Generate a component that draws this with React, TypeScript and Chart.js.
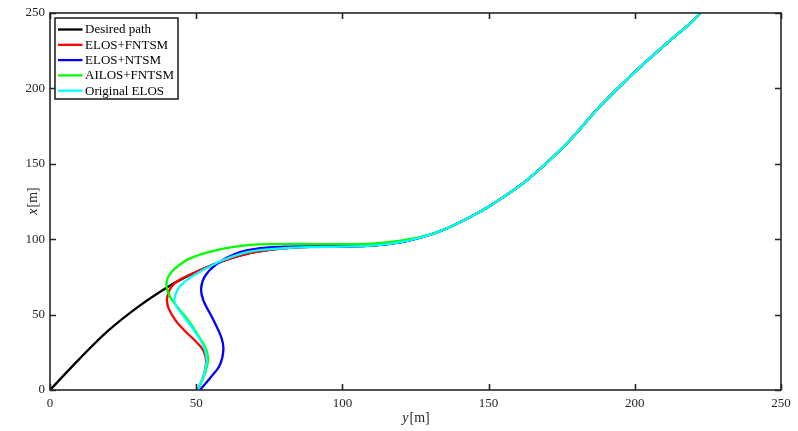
import React, { useEffect, useRef } from "react";
import { Chart, registerables } from "chart.js";
Chart.register(...registerables);

// Horizontal axis: y[m]; vertical axis: x[m]
const tickValues = [0, 50, 100, 150, 200, 250];
const seriesNames = ["Desired path", "ELOS+FNTSM", "ELOS+NTSM", "AILOS+FNTSM", "Original ELOS"];
const seriesColors = ["#000000", "#ff0000", "#0000ff", "#00ff00", "#00ffff"];

// shared final part of every path
const tailY = [110, 120, 130, 137, 145, 152, 163, 177, 188, 199.5, 211, 220, 222.3];
const tailX = [95.7, 98, 103, 108.3, 116, 124, 139, 164, 188, 210, 230, 245, 250];

const desiredY = [0, 10, 20, 30, 40, 47, 55, 62, 70, 80, 90, 100];
const desiredX = [0, 20.5, 39.5, 55, 68, 75.5, 82.5, 87.5, 91.5, 94, 95, 95.3];

const elosFntsmY = [50.5, 52.4, 53.4, 52.5, 50, 46.5, 43, 40.6, 40, 40.8, 42.5, 45, 48, 55, 62, 70, 80, 90, 100];
const elosFntsmX = [0, 8.8, 18.8, 26, 32, 38.5, 46, 54, 60, 66, 70.5, 73.8, 76.5, 82.5, 87.5, 91.5, 94, 95, 95.3];

const elosNtsmY = [51.3, 54.7, 58.1, 59.3, 58.7, 55.9, 52.4, 51.7, 53, 57, 63.8, 71.8, 80, 90, 100];
const elosNtsmX = [0, 7.8, 16.6, 26.5, 34.3, 46.4, 59.7, 67.5, 75.5, 83.5, 90.6, 94, 95, 95.2, 95.3];

const ailosY = [50.5, 52.6, 54, 53.5, 51, 47.2, 43.5, 41, 39.9, 40.2, 42.2, 47.9, 57, 68.4, 78.7, 90, 100, 110, 120];
const ailosX = [0, 8.8, 18.8, 26.5, 35.3, 46.4, 55.2, 62, 68, 74, 79.6, 87.3, 92.8, 96.2, 96.8, 96.8, 96.7, 97, 99];

const originalY = [50.5, 52.4, 53.6, 53, 50.7, 46.7, 43.3, 42.5, 43.9, 46.8, 51.3, 59.3, 68.4, 80, 90, 100];
const originalX = [0, 8.8, 18.8, 26.5, 35.3, 46.4, 55.2, 60, 67.4, 72.9, 78.4, 86.2, 91.7, 94, 94.8, 95.1];

function toPoints(h: number[], v: number[], skipTail = 0) {
  const pts = h.map((y, i) => ({ x: y, y: v[i] }));
  for (let i = skipTail; i < tailY.length; i++) pts.push({ x: tailY[i], y: tailX[i] });
  return pts;
}

const FONT = "'Liberation Serif', 'Times New Roman', serif";

const overlay = {
  id: "overlay",
  afterDraw(chart: any) {
    const { ctx, chartArea: a, scales } = chart;
    const xs = scales.x, ys = scales.y;
    ctx.save();
    ctx.strokeStyle = "#262626";
    ctx.lineWidth = 1.6;
    ctx.strokeRect(a.left, a.top, a.right - a.left, a.bottom - a.top);
    ctx.beginPath();
    const tl = 6;
    tickValues.forEach((t) => {
      const px = Math.round(xs.getPixelForValue(t)) + 0.5;
      ctx.moveTo(px, a.bottom); ctx.lineTo(px, a.bottom - tl);
      ctx.moveTo(px, a.top); ctx.lineTo(px, a.top + tl);
      const py = Math.round(ys.getPixelForValue(t)) + 0.5;
      ctx.moveTo(a.left, py); ctx.lineTo(a.left + tl, py);
      ctx.moveTo(a.right, py); ctx.lineTo(a.right - tl, py);
    });
    ctx.stroke();

    ctx.fillStyle = "#262626";
    ctx.textBaseline = "middle";
    const drawTitle = (v: string, cx: number, cy: number, rot: boolean) => {
      ctx.save();
      ctx.translate(cx, cy);
      if (rot) ctx.rotate(-Math.PI / 2);
      ctx.font = `italic 14px ${FONT}`;
      const w1 = ctx.measureText(v).width;
      ctx.font = `14px ${FONT}`;
      const w2 = ctx.measureText("[m]").width;
      const start = -(w1 + w2) / 2;
      ctx.textAlign = "left";
      ctx.font = `italic 14px ${FONT}`;
      ctx.fillText(v, start, 0);
      ctx.font = `14px ${FONT}`;
      ctx.fillText("[m]", start + w1 + 1, 0);
      ctx.restore();
    };
    drawTitle("y", (a.left + a.right) / 2, 418, false);
    drawTitle("x", 33, (a.top + a.bottom) / 2, true);

    const lx = 55, ly = 18, lw = 123, lh = 81;
    ctx.fillStyle = "#ffffff";
    ctx.fillRect(lx, ly, lw, lh);
    ctx.strokeStyle = "#262626";
    ctx.lineWidth = 1.6;
    ctx.strokeRect(lx, ly, lw, lh);
    ctx.font = `13px ${FONT}`;
    ctx.textAlign = "left";
    ctx.textBaseline = "middle";
    seriesNames.forEach((name, i) => {
      const y = 29.5 + i * 15.3;
      ctx.strokeStyle = seriesColors[i];
      ctx.lineWidth = 2.3;
      ctx.beginPath();
      ctx.moveTo(58, y); ctx.lineTo(82.5, y);
      ctx.stroke();
      ctx.fillStyle = "#000000";
      ctx.fillText(name, 85, y + 0.5);
    });
    ctx.restore();
  },
};

export default function App() {
  const ref = useRef<HTMLCanvasElement>(null);
  useEffect(() => {
    if (!ref.current) return;
    const mk = (i: number, data: any[], order: number) => ({
      label: seriesNames[i],
      data,
      borderColor: seriesColors[i],
      backgroundColor: seriesColors[i],
      borderWidth: 2.3,
      pointRadius: 0,
      showLine: true,
      tension: 0.35,
      fill: false,
      order,
    });
    const chart = new Chart(ref.current, {
      type: "scatter",
      data: {
        datasets: [
          mk(0, toPoints(desiredY, desiredX), 5),
          mk(1, toPoints(elosFntsmY, elosFntsmX), 4),
          mk(2, toPoints(elosNtsmY, elosNtsmX), 3),
          mk(3, toPoints(ailosY, ailosX, 2), 2),
          mk(4, toPoints(originalY, originalX), 1),
        ],
      },
      options: {
        animation: false,
        responsive: false,
        maintainAspectRatio: false,
        layout: { padding: { top: 13, right: 17, left: 0, bottom: 0 } },
        plugins: { legend: { display: false }, tooltip: { enabled: false } },
        scales: {
          x: {
            type: "linear",
            min: 0,
            max: 250,
            grid: { display: false, drawTicks: false },
            border: { display: false },
            afterBuildTicks: (s: any) => { s.ticks = tickValues.map((v) => ({ value: v })); },
            afterFit: (s: any) => { s.height = 41; },
            ticks: { padding: 6, color: "#262626", font: { family: FONT, size: 13 }, maxRotation: 0 },
          },
          y: {
            type: "linear",
            min: 0,
            max: 250,
            grid: { display: false, drawTicks: false },
            border: { display: false },
            afterBuildTicks: (s: any) => { s.ticks = tickValues.map((v) => ({ value: v })); },
            afterFit: (s: any) => { s.width = 50; },
            ticks: { padding: 5, color: "#262626", font: { family: FONT, size: 13 } },
          },
        },
      },
      plugins: [overlay],
    });
    return () => chart.destroy();
  }, []);
  return (
    <div style={{ position: "fixed", left: 0, top: 0, width: 798, height: 431, background: "#fff" }}>
      <canvas ref={ref} width={798} height={431} style={{ width: 798, height: 431 }} />
    </div>
  );
}
